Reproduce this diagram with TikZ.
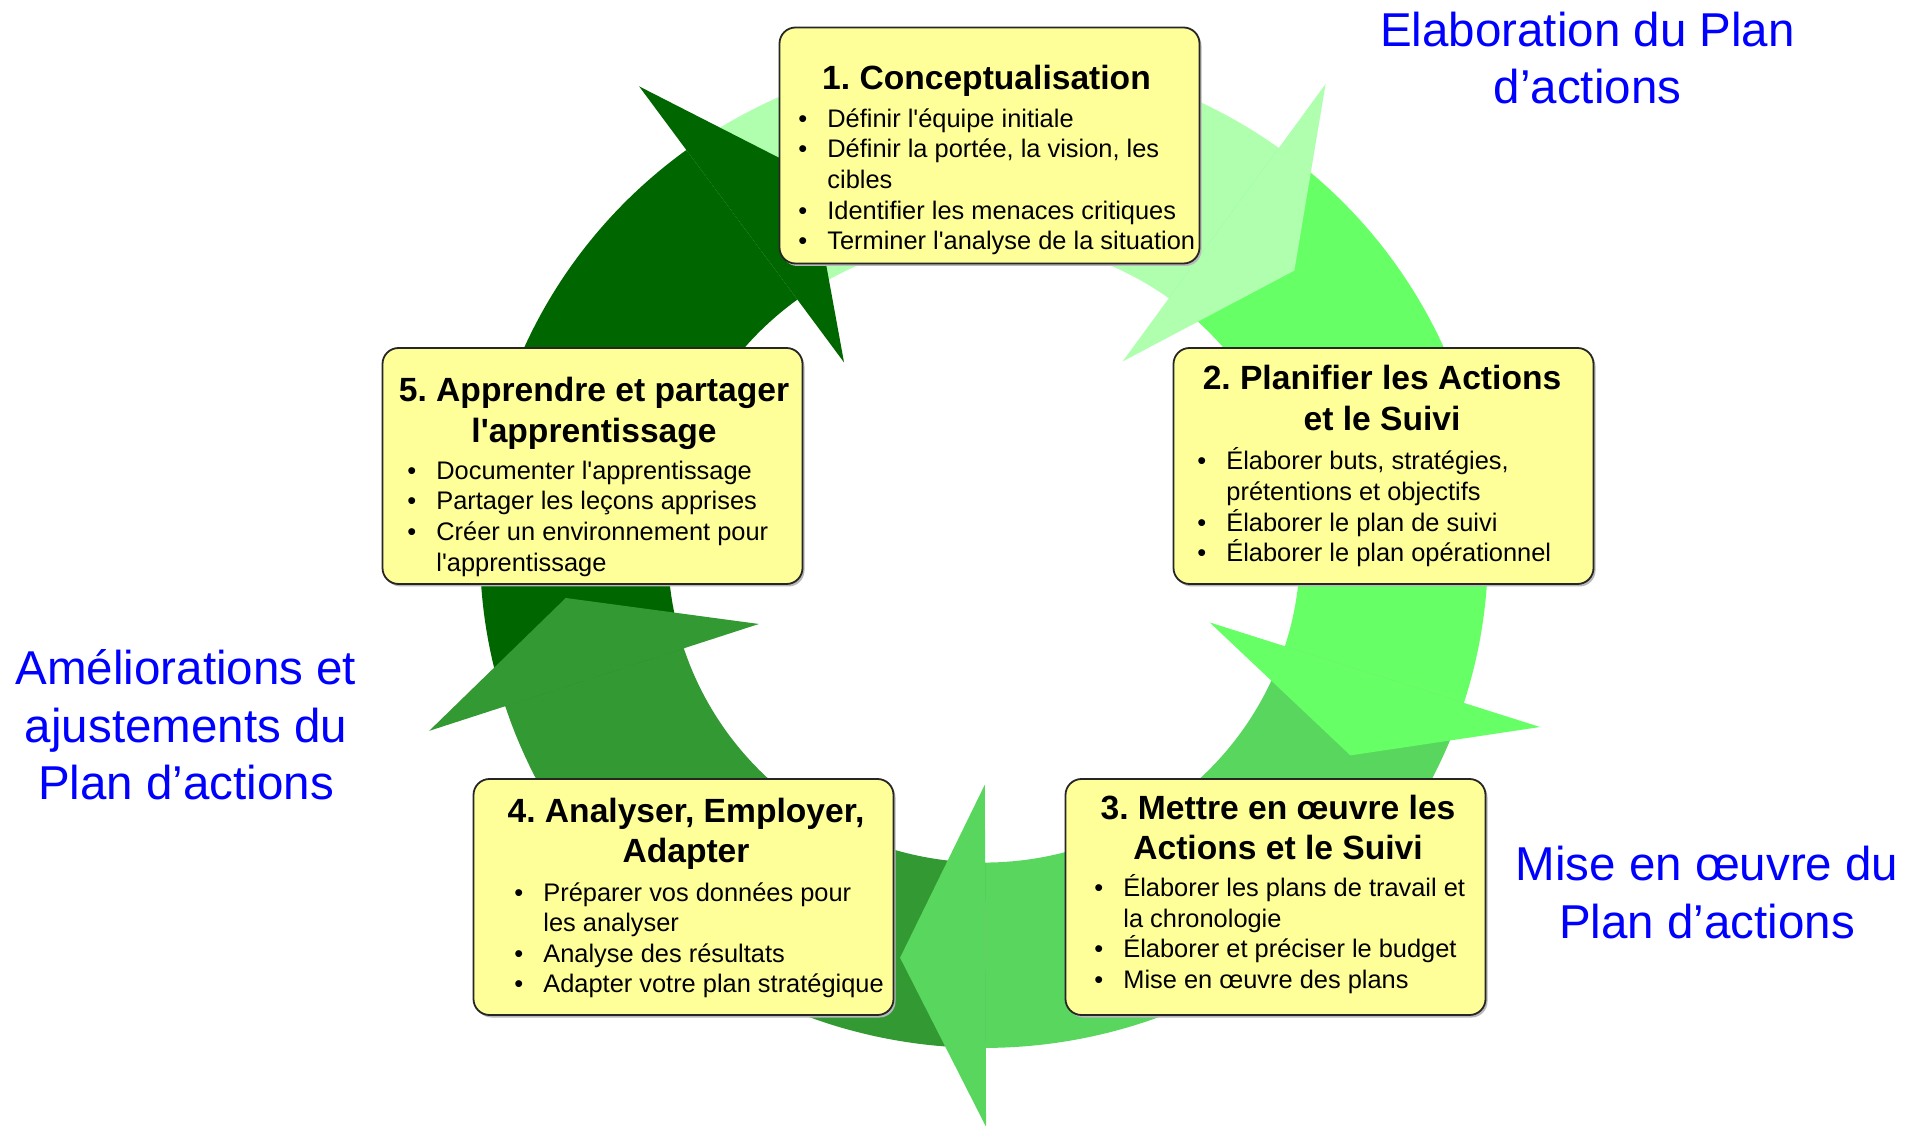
\documentclass[tikz,border=0pt]{standalone}
\usepackage{fontspec}
\setmainfont{Liberation Sans}
\newfontfamily\boxfont[Ligatures=TeXOff]{Liberation Sans}
\definecolor{cLight}{HTML}{AFFFAF}
\definecolor{cGreen}{HTML}{66FF66}
\definecolor{cMed}{HTML}{59D65E}
\definecolor{cMid}{HTML}{339933}
\definecolor{cDark}{HTML}{006600}
\definecolor{boxyellow}{HTML}{FFFF99}
\definecolor{labelblue}{HTML}{0000FF}
\newcommand\bitem{\makebox[14.5pt][l]{•}}
\newcommand\bcont{\hspace*{14.5pt}}
\newcommand\tstrut{\rule{0pt}{14pt}}
\newcommand\lstrut{\rule{0pt}{12pt}}
\newcommand\bstrut{\rule{0pt}{18pt}}
\begin{document}
\frenchspacing
\begin{tikzpicture}[x=0.5pt,y=0.5pt,
  stepbox/.style={draw=black!85, line width=0.9pt, rounded corners=8pt, fill=boxyellow,
    minimum width=210pt, minimum height=118pt, inner sep=0pt},
  shadowbox/.style={fill=black!28, rounded corners=8pt,
    minimum width=210pt, minimum height=118pt, inner sep=0pt},
  ttl/.style={font=\boxfont\bfseries\fontsize{16.8}{20.2}\selectfont\frenchspacing, align=center, anchor=north, inner sep=0pt},
  lst/.style={font=\boxfont\fontsize{12.7}{15.3}\selectfont, align=left, anchor=north west, inner sep=0pt},
  lbl/.style={font=\fontsize{23.75}{28.8}\selectfont, text=labelblue, align=center, anchor=north, inner sep=0pt}
]
\useasboundingbox[fill=white] (0,0) rectangle (1920,1125);

% ring of arrows
\begin{scope}[shift={(984,574)}, yscale=0.986]
  \foreach \col/\s in {cLight/126.2, cGreen/54.2, cMed/-17.8, cMid/-89.8, cDark/-161.8} {
    \fill[\col] (\s:504) arc[start angle=\s, end angle=\s-72, radius=504]
      -- (\s-72:316) arc[start angle=\s-72, end angle=\s, radius=316] -- cycle;
  }
  \foreach \col/\e in {cLight/54.2, cGreen/-17.8, cMed/-89.8, cMid/-161.8, cDark/-233.8} {
    \fill[\col] (\e:584) -- (\e-11.7:421) -- (\e:237) -- cycle;
  }
\end{scope}

% boxes
\node[shadowbox] (s1) at (991.5,977) {};
\node[stepbox]   (b1) at (989.5,979.5) {};
\node[shadowbox] (s2) at (1385.5,656.5) {};
\node[stepbox]   (b2) at (1383.5,659) {};
\node[shadowbox] (s3) at (1277.5,225.5) {};
\node[stepbox]   (b3) at (1275.5,228) {};
\node[shadowbox] (s4) at (685.5,225.5) {};
\node[stepbox]   (b4) at (683.5,228) {};
\node[shadowbox] (s5) at (594.5,656.5) {};
\node[stepbox]   (b5) at (592.5,659) {};

% titles
\node[ttl] (t1) at (986.5,1064) {\tstrut 1.\ Conceptualisation};
\node[ttl] (t2) at (1382,763.6) {\tstrut 2.\ Planifier les Actions\\et le Suivi};
\node[ttl] (t3) at (1278,334) {\tstrut 3.\ Mettre en œuvre les\\Actions et le Suivi};
\node[ttl] (t4) at (686,331.4) {\tstrut 4.\ Analyser, Employer,\\Adapter};
\node[ttl] (t5) at (594,751.4) {\tstrut 5.\ Apprendre et partager\\l'apprentissage};

% bullet lists
\node[lst] (l1) at (798,1022) {\lstrut\bitem Définir l'équipe initiale\\
  \bitem Définir la portée, la vision, les\\
  \bcont cibles\\
  \bitem Identifier les menaces critiques\\
  \bitem Terminer l'analyse de la situation};
\node[lst] (l2) at (1197,679.4) {\lstrut\bitem Élaborer buts, stratégies,\\
  \bcont prétentions et objectifs\\
  \bitem Élaborer le plan de suivi\\
  \bitem Élaborer le plan opérationnel};
\node[lst] (l3) at (1094,253) {\lstrut\bitem Élaborer les plans de travail et\\
  \bcont la chronologie\\
  \bitem Élaborer et préciser le budget\\
  \bitem Mise en œuvre des plans};
\node[lst] (l4) at (514,248.4) {\lstrut\bitem Préparer vos données pour\\
  \bcont les analyser\\
  \bitem Analyse des résultats\\
  \bitem Adapter votre plan stratégique};
\node[lst] (l5) at (407,670) {\lstrut\bitem Documenter l'apprentissage\\
  \bitem Partager les leçons apprises\\
  \bitem Créer un environnement pour\\
  \bcont l'apprentissage};

% blue labels
\node[lbl] (lab1) at (1587.5,1115) {\bstrut Elaboration du Plan\\d’actions};
\node[lbl] (lab2) at (186,477) {\bstrut Améliorations et\\ajustements du\\Plan d’actions};
\node[lbl] (lab3) at (1707,281) {\bstrut Mise en œuvre du\\Plan d’actions};
\end{tikzpicture}
\end{document}
